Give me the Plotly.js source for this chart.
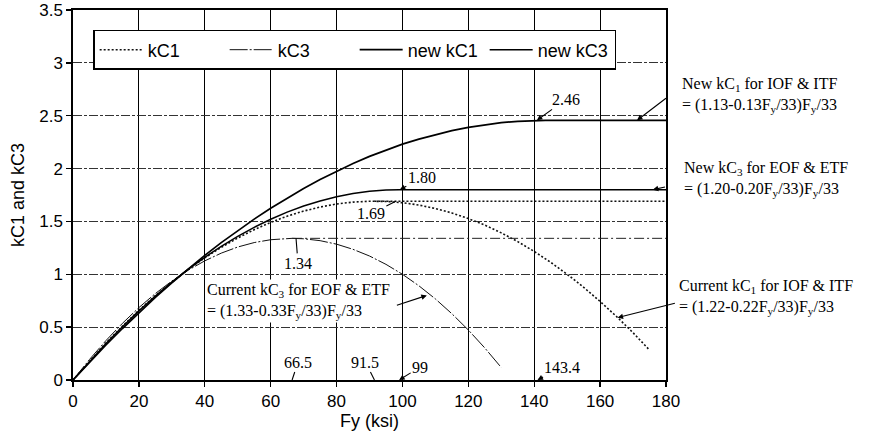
<!DOCTYPE html>
<html>
<head>
<meta charset="utf-8">
<script src="https://cdn.plot.ly/plotly-3.0.1.min.js"></script>
<style>html,body{margin:0;padding:0;background:#fff;}</style>
</head>
<body>
<div id="chart" style="width:871px;height:436px;"></div>
<script>
// Current kC1 = (1.22-0.22Fy/33)Fy/33
const kc1X = [0,5,10,15,20,25,30,35,40,45,50,55,60,65,70,75,80,85,90,91.5,95,100,105,110,115,120,125,130,135,140,145,150,155,160,165,170,175];
const kc1Y = [0,0.180,0.350,0.509,0.659,0.798,0.927,1.047,1.156,1.255,1.343,1.422,1.491,1.550,1.598,1.636,1.665,1.683,1.691,1.691,1.689,1.677,1.655,1.622,1.580,1.527,1.465,1.392,1.309,1.216,1.113,1.000,0.877,0.743,0.600,0.447,0.283];
// Current kC3 = (1.33-0.33Fy/33)Fy/33
const kc3X = [0,5,10,15,20,25,30,35,40,45,50,55,60,65,66.5,70,75,80,85,90,95,100,105,110,115,120,125,130];
const kc3Y = [0,0.194,0.373,0.536,0.685,0.818,0.936,1.039,1.127,1.200,1.258,1.300,1.327,1.339,1.340,1.336,1.318,1.285,1.236,1.173,1.094,1.000,0.891,0.767,0.627,0.473,0.303,0.118];
// New kC1 = (1.13-0.13Fy/33)Fy/33, plateau after 143.4
const newKc1X = [0,5,10,15,20,25,30,35,40,45,50,55,60,65,70,75,80,85,90,95,100,105,110,115,120,125,130,135,140,143.4,180];
const newKc1Y = [0,0.168,0.331,0.487,0.637,0.782,0.920,1.052,1.179,1.299,1.414,1.522,1.625,1.721,1.812,1.897,1.975,2.048,2.115,2.176,2.231,2.279,2.322,2.359,2.390,2.415,2.434,2.447,2.454,2.456,2.456];
// New kC3 = (1.20-0.20Fy/33)Fy/33, plateau after 99
const newKc3X = [0,5,10,15,20,25,30,35,40,45,50,55,60,65,70,75,80,85,90,95,99,180];
const newKc3Y = [0,0.177,0.345,0.504,0.654,0.794,0.926,1.048,1.161,1.265,1.359,1.444,1.521,1.588,1.646,1.694,1.734,1.764,1.785,1.797,1.800,1.800];
// plateau reference lines of the current formulas
const kc1PlateauX = [91.5, 180];
const kc1PlateauY = [1.69, 1.69];
const kc3PlateauX = [66.5, 180];
const kc3PlateauY = [1.34, 1.34];

const legendNames = ['kC1', 'kC3', 'new kC1', 'new kC3'];
const peakLabels = ['2.46', '1.80', '1.69', '1.34'];
const peakFy = ['66.5', '91.5', '99', '143.4'];

const serif = 'Liberation Serif, Times New Roman, serif';

const traces = [
  {x: kc1X, y: kc1Y, name: legendNames[0], mode: 'lines', line: {color: '#111', width: 1.6, dash: '2px,2px'}},
  {x: kc3X, y: kc3Y, name: legendNames[1], mode: 'lines', line: {color: '#111', width: 1, dash: '18px,2px,2px,2px'}},
  {x: newKc1X, y: newKc1Y, name: legendNames[2], mode: 'lines', line: {color: '#000', width: 1.7}},
  {x: newKc3X, y: newKc3Y, name: legendNames[3], mode: 'lines', line: {color: '#000', width: 1.5}},
  {x: kc1PlateauX, y: kc1PlateauY, mode: 'lines', showlegend: false, line: {color: '#111', width: 1.5, dash: '2px,2px'}},
  {x: kc3PlateauX, y: kc3PlateauY, mode: 'lines', showlegend: false, line: {color: '#222', width: 1, dash: '10px,3px,2px,3px'}}
];

function txt(x, y, text, opts) {
  return Object.assign({x: x, y: y, text: text, showarrow: false, xanchor: 'left', yanchor: 'middle', align: 'left',
    font: {family: serif, size: 16, color: '#000'}}, opts || {});
}
function lab(x, y, text, ax, ay, head) {
  return {x: x, y: y, xref: 'x', yref: 'y', text: text, showarrow: true, ax: ax, ay: ay,
    arrowhead: head, arrowsize: 1, arrowwidth: 1.1, arrowcolor: '#000', standoff: 0,
    font: {family: serif, size: 16, color: '#000'}};
}
function arr(x, y, tx, ty) {
  return {x: x, y: y, xref: 'x', yref: 'y', axref: 'x', ayref: 'y', ax: tx, ay: ty, text: ' ',
    showarrow: true, arrowhead: 2, arrowsize: 1, arrowwidth: 1.1, arrowcolor: '#000', standoff: 0,
    font: {size: 2}};
}

const annotations = [
  lab(140.8, 2.456, peakLabels[0], 29, -21, 2),
  lab(99.2, 1.80, peakLabels[1], 22, -12, 2),
  lab(98, 1.69, peakLabels[2], -25, 12, 0),
  lab(67.7, 1.34, peakLabels[3], 2, 25, 0),
  lab(66.5, 0, peakFy[0], 6, -18, 0),
  lab(91.5, 0, peakFy[1], -9, -18, 0),
  lab(99, 0, peakFy[2], 21, -13, 2),
  lab(141, 0, peakFy[3], 24, -13, 2),
  // formula notes
  txt(1.0236, 0.771, 'New kC<sub>1</sub> for IOF &amp; ITF<br>= (1.13-0.13F<sub>y</sub>/33)F<sub>y</sub>/33', {xref: 'paper', yref: 'paper'}),
  txt(1.027, 0.542, 'New kC<sub>3</sub> for EOF &amp; ETF<br>= (1.20-0.20F<sub>y</sub>/33)F<sub>y</sub>/33', {xref: 'paper', yref: 'paper'}),
  txt(1.0186, 0.225, 'Current kC<sub>1</sub> for IOF &amp; ITF<br>= (1.22-0.22F<sub>y</sub>/33)F<sub>y</sub>/33', {xref: 'paper', yref: 'paper'}),
  txt(40, 0.752, 'Current kC<sub>3</sub> for EOF &amp; ETF<br>= (1.33-0.33F<sub>y</sub>/33)F<sub>y</sub>/33', {xref: 'x', yref: 'y', bgcolor: '#fff'}),
  arr(171.2, 2.456, 180.6, 2.68),
  arr(176, 1.80, 180.3, 1.83),
  arr(165.3, 0.59, 183.3, 0.73),
  arr(107.4, 0.80, 97.7, 0.70)
];

const layout = {
  width: 871, height: 436,
  margin: {l: 73, r: 205, t: 10, b: 56, pad: 0},
  paper_bgcolor: '#fff', plot_bgcolor: '#fff',
  font: {family: 'Liberation Sans, Arial, sans-serif', size: 17, color: '#000'},
  showlegend: true,
  xaxis: {
    range: [0, 180], tick0: 0, dtick: 20, ticks: 'outside', ticklen: 5, tickcolor: '#000', tickwidth: 1.3,
    showline: true, mirror: true, linecolor: '#000', linewidth: 1.6,
    showgrid: true, gridcolor: '#000', gridwidth: 1.2, zeroline: false,
    tickfont: {size: 17},
    title: {text: 'Fy (ksi)', font: {size: 18}, standoff: 4}
  },
  yaxis: {
    range: [0, 3.5], tick0: 0, dtick: 0.5, ticks: 'outside', ticklen: 5, tickcolor: '#000', tickwidth: 1.3,
    showline: true, mirror: true, linecolor: '#000', linewidth: 1.6,
    showgrid: true, gridcolor: '#333', gridwidth: 1, griddash: '9px,2px,3px,2px', zeroline: false,
    tickfont: {size: 17},
    title: {text: 'kC1 and kC3', font: {size: 18}, standoff: 10}
  },
  legend: {
    orientation: 'h', x: 0.034, y: 0.946, xanchor: 'left', yanchor: 'top',
    bgcolor: '#fff', bordercolor: '#000', borderwidth: 1.5,
    font: {size: 18}, itemwidth: 43, entrywidth: 72, entrywidthmode: 'pixels'
  },
  annotations: annotations
};

Plotly.newPlot('chart', traces, layout, {displayModeBar: false, staticPlot: true});
</script>
</body>
</html>
